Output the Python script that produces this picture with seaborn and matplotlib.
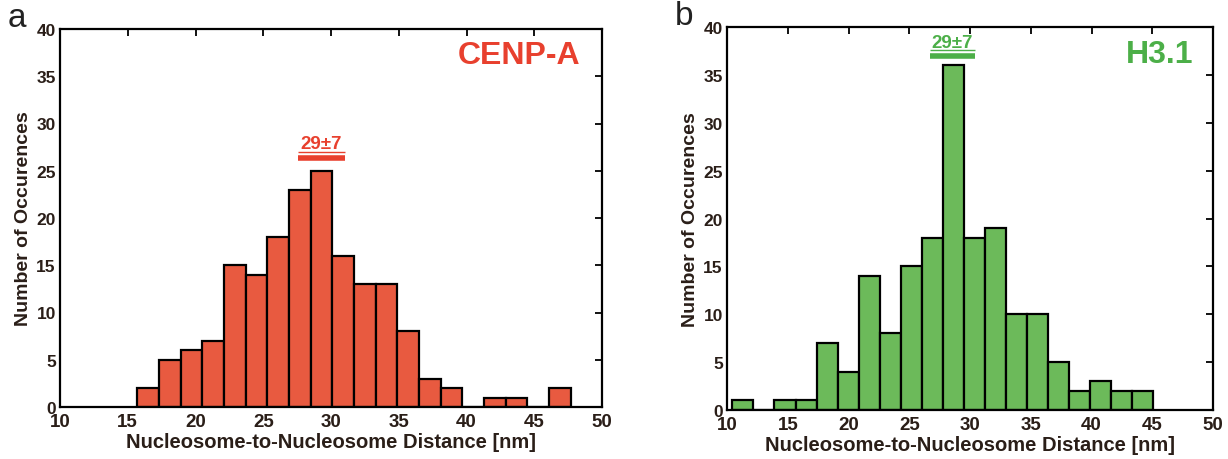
import numpy as np
import pandas as pd
import matplotlib
matplotlib.use("Agg")
import matplotlib.pyplot as plt
import seaborn as sns

# ---- data ----
cenpa_range = (15.7, 47.7)
cenpa_counts = [2, 5, 6, 7, 15, 14, 18, 23, 25, 16, 13, 13, 8, 3, 2, 0, 1, 1, 0, 2]
h31_range = (10.44, 45.1)
h31_counts = [1, 0, 1, 1, 7, 4, 14, 8, 15, 18, 36, 18, 19, 10, 10, 5, 2, 3, 2, 2]
x_ticks = [10, 15, 20, 25, 30, 35, 40, 45, 50]
y_ticks = [0, 5, 10, 15, 20, 25, 30, 35, 40]
labels = ["CENP-A", "H3.1"]
annot = ["29±7", "29±7"]

sns.set_theme(style="white")
plt.rcParams['font.family'] = ['Liberation Sans', 'DejaVu Sans']

fig = plt.figure(figsize=(12.28, 4.60), dpi=100)
ax1 = fig.add_axes([60/1228, 52/460, 542/1228, 378/460])
ax2 = fig.add_axes([727/1228, 49/460, 486/1228, 383/460])

fill_colors = ["#E85A40", "#6CBA5A"]
text_colors = ["#E8402E", "#4CAF48"]
tick_col = "#2a1e18"

def draw(ax, rng, counts, fill, tcol, label, ann, ann_xy, bar_x, bar_y, ul_y, panel, px):
    n = len(counts)
    edges = np.linspace(rng[0], rng[1], n + 1)
    centers = (edges[:-1] + edges[1:]) / 2
    df = pd.DataFrame({"x": centers, "w": counts})
    sns.histplot(data=df, x="x", weights="w", bins=n, binrange=rng, ax=ax,
                 color=fill, edgecolor="black", linewidth=1.6, alpha=1.0)
    ax.set_xlim(10, 50)
    ax.set_ylim(0, 40)
    ax.set_xticks(x_ticks)
    ax.set_yticks(y_ticks)
    ax.tick_params(direction="in", length=5, width=1.3, top=True, right=True,
                   colors="black", labelcolor=tick_col)
    ax.tick_params(axis="x", labelsize=13.5, pad=4)
    ax.tick_params(axis="y", labelsize=12.5, pad=3)
    for t in ax.get_xticklabels() + ax.get_yticklabels():
        t.set_fontweight("bold")
    for s in ax.spines.values():
        s.set_linewidth(1.6)
        s.set_color("black")
    ax.set_xlabel("Nucleosome-to-Nucleosome Distance [nm]", fontsize=14.5,
                  fontweight="bold", color=tick_col, labelpad=2)
    ax.set_ylabel("Number of Occurences", fontsize=14, fontweight="bold",
                  color=tick_col, labelpad=3)
    ax.text(0.96, 0.93, label, transform=ax.transAxes, ha="right", va="center",
            fontsize=23, fontweight="bold", color=tcol)
    ax.text(ann_xy[0], ann_xy[1], ann, ha="center", va="center", fontsize=13.5,
            fontweight="bold", color=tcol)
    ax.plot(bar_x, [ul_y, ul_y], color=tcol, linewidth=1.0, solid_capstyle="butt")
    ax.plot(bar_x, [bar_y, bar_y], color=tcol, linewidth=4, solid_capstyle="butt")
    ax.text(px, 1.03, panel, transform=ax.transAxes,
            ha="left", va="center", fontsize=24, color="#222222")

draw(ax1, cenpa_range, cenpa_counts, fill_colors[0], text_colors[0], labels[0],
     annot[0], (29.3, 27.9), [27.6, 31.0], 26.4, 27.0, "a", -0.097)
draw(ax2, h31_range, h31_counts, fill_colors[1], text_colors[1], labels[1],
     annot[1], (28.5, 38.4), [26.7, 30.4], 37.0, 37.6, "b", -0.108)

fig.savefig("out.png", dpi=100)
